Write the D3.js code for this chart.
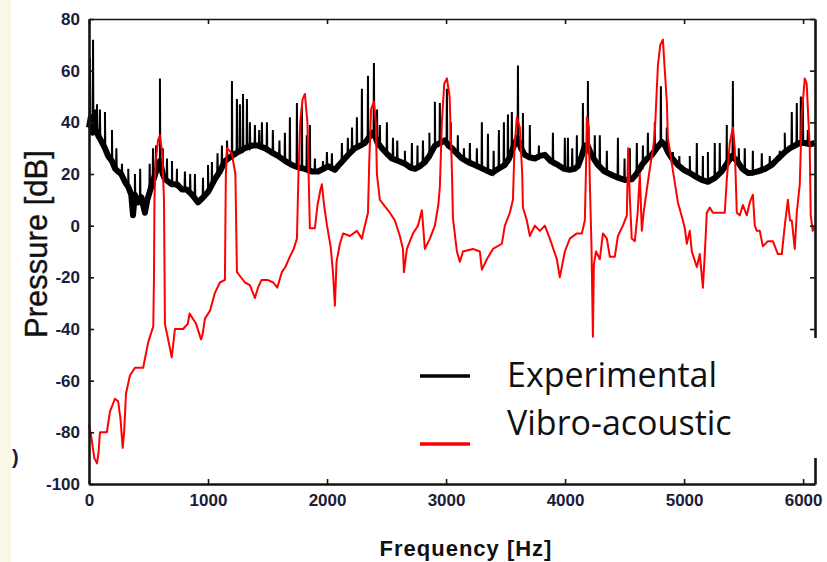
<!DOCTYPE html>
<html>
<head>
<meta charset="utf-8">
<script src="https://cdn.jsdelivr.net/npm/d3@7"></script>
<style>
  body { margin: 0; background: #fff; }
  svg { display: block; }
  .tick text { font-family: "Liberation Sans", Arial, sans-serif; font-weight: bold; font-size: 17px; fill: #1c1c3a; }
</style>
</head>
<body>
<svg id="chart" width="827" height="562"></svg>
<script>
// axis ticks
const freqTicks = [0, 1000, 2000, 3000, 4000, 5000, 6000];
const dbTicks = [-100, -80, -60, -40, -20, 0, 20, 40, 60, 80];

// Experimental: smooth underlying level [Hz, dB]
const expBase = [
  [0,38],[15,42],[30,36],[50,38],[76,35],[100,33],[134,30],[160,27],[193,25],[220,22],[244,21],[270,20],
  [302,17],[330,15],[355,12],[370,4],[385,12],[412,9],[440,11],[470,5],[490,10],[529,16],[571,22],[596,25],
  [620,20],[638,18],[697,16],[740,16],[781,14],[820,14],[865,12],[916,9],[960,11],[1000,13],[1058,18],
  [1100,21],[1142,25],[1200,27],[1252,28.5],[1310,30],[1369,31],[1420,31],[1478,30],[1530,28.5],[1588,27],
  [1650,25],[1705,23.5],[1760,22.5],[1814,22],[1870,21],[1924,21],[1970,22],[2008,23],[2066,21.6],[2110,24],
  [2150,26],[2190,28],[2234,30],[2280,31],[2318,32],[2350,34],[2377,36],[2400,35],[2425,32],[2461,30],
  [2500,28],[2545,26],[2600,25],[2654,24],[2700,22.5],[2738,22],[2780,23],[2822,24.6],[2860,27],[2906,31],
  [2950,32],[2990,33],[3020,31],[3049,30],[3090,28],[3133,26],[3190,24.5],[3242,23.5],[3310,22],[3385,20.4],
  [3440,22],[3494,23.5],[3530,26],[3562,30],[3600,34],[3630,30],[3662,27.4],[3700,26.5],[3746,26],[3790,27],
  [3830,27.4],[3880,25],[3940,23.5],[3990,22],[4040,21.6],[4080,22],[4108,23],[4140,27],[4166,31],[4190,31],
  [4225,27],[4276,23.5],[4330,21],[4393,19.6],[4450,18.5],[4502,17.7],[4561,18],[4600,20],[4645,23.5],
  [4690,26],[4729,27.4],[4770,30],[4813,32.4],[4840,31],[4864,28.5],[4900,26],[4948,23.5],[5000,21.5],
  [5048,20.4],[5116,18.5],[5160,17.5],[5200,17],[5260,18.5],[5317,21],[5360,24],[5401,27],[5425,26],
  [5452,24.6],[5490,22],[5536,20.4],[5580,20.5],[5620,21],[5680,22],[5737,23.5],[5790,26],[5846,28.5],
  [5890,30],[5930,31],[5970,32],[6014,32],[6060,31.5],[6098,32]
];

// Experimental: narrow peaks [Hz, foot dB, top dB]
const expSpikes = [
  [8,40,65],[34,38,72],[50,36,45],[67,37,47],[92,35,45],[134,30,44],[193,25,37],[230,22,30],[277,19,24],
  [330,15,22],[386,12,20],[430,9,22],[510,14,24],[538,18,30],[563,21,31],[596,25,57],[620,20,30],[655,18,26],
  [697,16,25],[739,15,22],[806,15,21],[850,13,20],[890,11,20],[958,11,18.5],[1000,13,23.5],[1033,15,24.6],
  [1080,20,28],[1117,23,31],[1160,25,33],[1201,27,56],[1243,28,49],[1268,29,47],[1294,29,51],[1327,30,49],
  [1352,30,40],[1394,31,39],[1430,31,37],[1453,30,40],[1495,30,40],[1545,28,37],[1600,27,33],[1646,25,36],
  [1688,24,42],[1747,23,47.5],[1789,22,46],[1830,22,35],[1856,21,39],[1898,21,26],[1966,22,25],[1999,23,28.5],
  [2041,22,28],[2125,25,32],[2175,27,34],[2210,29,38],[2251,30,42],[2293,31,53],[2344,33,58],[2394,36,63],
  [2420,33,45],[2444,31,39],[2503,28,40],[2554,26,34],[2590,25,33],[2654,24,29],[2713,22,32],[2760,22,31],
  [2806,24,33],[2860,27,36],[2906,31,48],[2948,32,47.5],[3007,33,53],[3040,31,40],[3099,28,35],[3150,26,30],
  [3200,25,32],[3259,23,30],[3301,22,40],[3352,21,35.6],[3400,20,29],[3444,22,37],[3486,23,40],[3520,26,43],
  [3553,29,44],[3604,33,62],[3646,28,43.6],[3704,26,39],[3780,26,31],[3898,24,36],[3998,22,34],[4024,22,34],
  [4060,22,30],[4099,22,35],[4150,28,47.5],[4192,32,56],[4250,26,35],[4292,23,35],[4351,21,29],[4444,19,34],
  [4500,18,26],[4544,18,30],[4603,21,32],[4654,23,31],[4696,26,36],[4754,29,40],[4805,32,54],[4855,29,38],
  [4906,26,28.5],[4960,23,27],[5048,20,27],[5107,19,32],[5158,18,27],[5200,17,28.5],[5258,19,32],[5300,20,32],
  [5359,23,39],[5410,27,56],[5460,24,30],[5510,21,30],[5578,20,29],[5653,21,28],[5720,23,27],[5804,26,29],
  [5846,28,36],[5905,30,44],[5947,31,47.5],[5981,32,50],[5998,32,48],[6040,32,37]
];

// Vibro-acoustic model [Hz, dB]
const vibro = [
  [0,-77],[20,-82],[45,-90],[67,-92],[80,-88],[92,-80],[150,-80],[176,-72],[218,-67],[245,-68],[265,-75],
  [283,-86],[295,-80],[311,-65],[344,-58],[386,-55],[455,-55],[498,-45],[540,-39],[546,-20],[550,10],[560,25],
  [580,33],[596,35],[615,28],[630,10],[638,-38],[665,-44],[695,-51],[710,-45],[722,-40],[790,-40],[830,-38],
  [845,-34],[900,-38],[941,-44],[955,-42],[974,-36],[1016,-33],[1058,-26],[1100,-22],[1142,-21],[1146,0],
  [1150,20],[1160,30],[1200,28],[1230,20],[1243,-18],[1260,-19],[1310,-22],[1352,-23],[1394,-28],[1420,-24],
  [1450,-21],[1500,-21],[1548,-22],[1582,-24],[1620,-18],[1650,-16],[1688,-12],[1720,-9],[1747,-5],[1760,20],
  [1775,40],[1795,49],[1814,51],[1835,40],[1850,10],[1856,-1],[1898,-1],[1920,8],[1945,14],[1957,16],[1975,8],
  [2000,0],[2030,-8],[2050,-18],[2066,-31],[2080,-14],[2108,-7],[2136,-3],[2192,-4],[2251,-2],[2293,-5],
  [2318,0],[2344,5],[2355,25],[2370,45],[2394,48],[2410,40],[2419,20],[2444,10],[2528,5],[2570,2],[2612,-4],
  [2638,-9],[2646,-18],[2671,-9],[2722,-3],[2764,0],[2797,6],[2822,-9],[2864,-5],[2906,0],[2935,8],[2948,15],
  [2965,40],[2985,55],[3007,57],[3030,50],[3050,20],[3058,3],[3091,-10],[3116,-14],[3142,-10],[3226,-9],
  [3284,-10],[3301,-17],[3343,-13],[3394,-9],[3469,-7],[3494,0],[3536,5],[3562,10],[3575,30],[3595,42],
  [3620,38],[3640,20],[3646,7],[3679,2],[3704,-4],[3746,0],[3788,-2],[3830,0],[3872,-5],[3931,-13],[3956,-20],
  [3998,-10],[4040,-5],[4099,-3],[4141,-3],[4166,2],[4175,20],[4183,42],[4200,38],[4208,17],[4222,-8],
  [4234,-43],[4242,-15],[4260,-10],[4292,-13],[4318,-3],[4351,-5],[4376,-12],[4418,-12],[4444,-4],[4486,0],
  [4519,4],[4530,30],[4545,10],[4560,-5],[4586,-6],[4610,5],[4628,20],[4645,-2],[4660,5],[4690,15],[4712,22],
  [4740,30],[4754,36],[4780,62],[4800,70],[4822,72],[4838,60],[4855,48],[4864,34],[4897,24],[4948,9],[4990,2],
  [5006,-1],[5023,-7],[5048,-2],[5065,-10],[5107,-16],[5132,-11],[5158,-24],[5174,-11],[5191,5],[5216,7],
  [5242,5],[5300,5],[5342,5],[5359,18],[5384,32],[5410,38],[5426,30],[5443,5],[5468,4],[5494,8],[5527,4],
  [5552,9],[5578,12],[5594,0],[5611,-2],[5636,-2],[5662,-8],[5704,-6],[5746,-6],[5788,-11],[5821,-11],
  [5846,0],[5872,10],[5890,2],[5905,2],[5930,-9],[5947,5],[5972,16],[5989,43],[6014,57],[6030,55],[6056,30],
  [6064,4],[6081,-2],[6100,0]
];

const legendItems = [
  { label: 'Experimental', color: '#000' },
  { label: 'Vibro-acoustic', color: '#ff0000' }
];

const svg = d3.select('#chart');

const x = d3.scaleLinear().domain([0, 6100]).range([89, 815]);
const y = d3.scaleLinear().domain([-100, 80]).range([484, 19]);

// cream strip at the left edge of the scan
svg.append('rect')
  .attr('x', 0).attr('y', 0).attr('width', 11).attr('height', 562)
  .attr('fill', '#fbf7e8');

svg.append('text')
  .attr('x', 12).attr('y', 464)
  .attr('font-family', 'Liberation Sans, Arial, sans-serif')
  .attr('font-weight', 'bold').attr('font-size', 20)
  .attr('fill', '#1c1c3a')
  .text(')');

// combine base and spikes into one trace
const expPoints = expBase.map(d => [d[0], d[1]]);
expSpikes.forEach(([f, foot, peak]) => {
  expPoints.push([f - 3, foot], [f, peak], [f + 3, foot]);
});
expPoints.sort((a, b) => a[0] - b[0]);

const line = d3.line()
  .x(d => x(d[0]))
  .y(d => y(d[1]));

// dense noise band of the measurement
svg.append('path')
  .datum(expBase)
  .attr('d', line)
  .attr('fill', 'none')
  .attr('stroke', '#000')
  .attr('stroke-width', 6)
  .attr('stroke-linejoin', 'round');

svg.append('path')
  .datum(expPoints)
  .attr('d', line)
  .attr('fill', 'none')
  .attr('stroke', '#000')
  .attr('stroke-width', 2);

svg.append('path')
  .datum(vibro)
  .attr('d', line)
  .attr('fill', 'none')
  .attr('stroke', '#ff0000')
  .attr('stroke-width', 2)
  .attr('stroke-linejoin', 'round');

// axes, ticks point inward
const axisColor = '#141414';
const plain = d => String(d);

const gBottom = svg.append('g')
  .attr('transform', `translate(0,${y(-100)})`)
  .call(d3.axisBottom(x).tickValues(freqTicks).tickFormat(plain)
    .tickSize(-5).tickSizeOuter(0).tickPadding(10));

const gLeft = svg.append('g')
  .attr('transform', `translate(${x(0)},0)`)
  .call(d3.axisLeft(y).tickValues(dbTicks).tickFormat(plain)
    .tickSize(-5).tickSizeOuter(0).tickPadding(9));

const gTop = svg.append('g')
  .attr('transform', `translate(0,${y(80)})`)
  .call(d3.axisTop(x).tickValues(freqTicks).tickSize(-5).tickSizeOuter(0).tickFormat(''));

const gRight = svg.append('g')
  .attr('transform', `translate(${x(6100)},0)`)
  .call(d3.axisRight(y).tickValues(dbTicks).tickSize(-5).tickSizeOuter(0).tickFormat(''));

[gBottom, gLeft, gRight].forEach(g => {
  g.select('.domain').attr('stroke', axisColor).attr('stroke-width', 2.6);
  g.selectAll('.tick line').attr('stroke', axisColor).attr('stroke-width', 1.6);
});
gTop.select('.domain').attr('stroke', axisColor).attr('stroke-width', 1.6);
gTop.selectAll('.tick line').attr('stroke', axisColor).attr('stroke-width', 1.6);

// legend box (white, hides part of the right axis)
const legend = svg.append('g');
legend.append('rect')
  .attr('x', 400).attr('y', 338).attr('width', 427).attr('height', 120)
  .attr('fill', '#fff');

const legendLineY = [376, 444];
const legendTextY = [387, 435];
legendItems.forEach((d, i) => {
  legend.append('line')
    .attr('x1', 420).attr('x2', 470)
    .attr('y1', legendLineY[i]).attr('y2', legendLineY[i])
    .attr('stroke', d.color).attr('stroke-width', 3.5);
  legend.append('text')
    .attr('x', 507).attr('y', legendTextY[i])
    .attr('font-family', 'Open Sans, sans-serif')
    .attr('font-size', 34)
    .attr('fill', '#111')
    .text(d.label);
});

// axis titles
svg.append('text')
  .attr('transform', `translate(47,${244}) rotate(-90)`)
  .attr('text-anchor', 'middle')
  .attr('font-family', 'Liberation Sans, Arial, sans-serif')
  .attr('font-size', 31)
  .attr('stroke', '#111').attr('stroke-width', 0.4)
  .attr('fill', '#111')
  .text('Pressure [dB]');

svg.append('text')
  .attr('x', 466).attr('y', 556)
  .attr('text-anchor', 'middle')
  .attr('font-family', 'Liberation Sans, Arial, sans-serif')
  .attr('font-weight', 'bold')
  .attr('font-size', 22)
  .attr('letter-spacing', 1)
  .attr('fill', '#111')
  .text('Frequency [Hz]');
</script>
</body>
</html>
